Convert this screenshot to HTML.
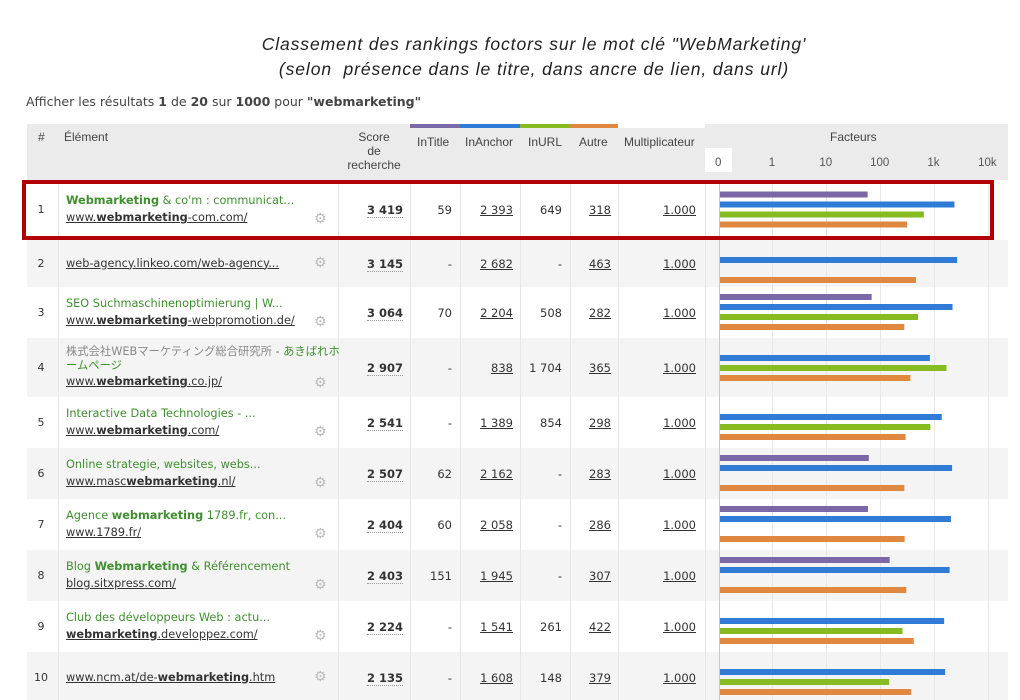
<!DOCTYPE html>
<html><head><meta charset="utf-8"><style>
body{margin:0;width:1020px;height:700px;background:#fff;position:relative;overflow:hidden;font-family:"DejaVu Sans","Liberation Sans","Noto Sans CJK JP",sans-serif;color:#333}
.a{position:absolute;white-space:nowrap}
.t{font-family:"Liberation Sans",sans-serif;font-style:italic;font-size:17.5px;letter-spacing:0.9px;color:#222;text-align:center;width:1020px;left:24px}
.h{font-family:"Liberation Sans",sans-serif;font-size:12px;color:#444}
.el{font-size:11.3px;left:66px}
.g{color:#3f8f2f}.u{color:#333;text-decoration:underline}
.n{font-size:11.5px;text-align:right}
.ul{text-decoration:underline}
.sc{font-weight:bold;border-bottom:1px dotted #999}
.gear{font-size:14px;color:#bbb;left:314px}
</style></head><body>
<div class="a t" style="top:34px;left:24px">Classement des rankings foctors sur le mot clé "WebMarketing'</div>
<div class="a t" style="top:59px;left:24px">(selon&nbsp; présence dans le titre, dans ancre de lien, dans url)</div>
<div class="a" style="left:26px;top:94px;font-size:12.5px;color:#444;font-family:'DejaVu Sans',sans-serif">Afficher les résultats <b>1</b> de <b>20</b> sur <b>1000</b> pour <b>"webmarketing"</b></div>
<svg id="tbl" class="a" style="left:0;top:0" width="1020" height="700"></svg>
<div id="txt"></div>
<script>
const ranks=[1,2,3,4,5,6,7,8,9,10];
const scores=[3419,3145,3064,2907,2541,2507,2404,2403,2224,2135];
const inTitle=[59,null,70,null,null,62,60,151,null,null];
const inAnchor=[2393,2682,2204,838,1389,2162,2058,1945,1541,1608];
const inURL=[649,null,508,1704,854,null,null,null,261,148];
const autre=[318,463,282,365,298,283,286,307,422,379];
const multiplier=["1.000","1.000","1.000","1.000","1.000","1.000","1.000","1.000","1.000","1.000"];
const tickLabels=["0","1","10","100","1k","10k"];
const tickValues=[0,1,10,100,1000,10000];
const titles=['<b>Webmarketing</b> &amp; co\'m : communicat...','','SEO Suchmaschinenoptimierung | W...','<span style="color:#888">株式会社WEBマーケティング総合研究所</span> - あきばれホ<br>ームページ','Interactive Data Technologies - ...','Online strategie, websites, webs...','Agence <b>webmarketing</b> 1789.fr, con...','Blog <b>Webmarketing</b> &amp; Référencement','Club des développeurs Web : actu...',''];
const urls=['www.<b>webmarketing</b>-com.com/','web-agency.linkeo.com/web-agency...','www.<b>webmarketing</b>-webpromotion.de/','www.<b>webmarketing</b>.co.jp/','www.<b>webmarketing</b>.com/','www.masc<b>webmarketing</b>.nl/','www.1789.fr/','blog.sitxpress.com/','<b>webmarketing</b>.developpez.com/','www.ncm.at/de-<b>webmarketing</b>.htm'];
const rowTops=[180,240,287,338,397,448,499,550,601,652,703];
const colors=["#7b68a6","#2f7bd6","#86bb22","#e08840"];
const x0=720,xOne=772,dec=54;
function xs(v){return v<=0?x0:xOne+dec*Math.log10(v);}
function fmt(v){return v==null?'-':(v>=1000?Math.floor(v/1000)+' '+String(v%1000).padStart(3,'0'):String(v));}
const svg=document.getElementById('tbl'),NS='http://www.w3.org/2000/svg';
function r(x,y,w,h,f,name){const e=document.createElementNS(NS,'rect');e.setAttribute('x',x);e.setAttribute('y',y);e.setAttribute('width',w);e.setAttribute('height',h);e.setAttribute('fill',f);


svg.appendChild(e);return e;}
r(27,124,981,56,'#ebebeb','header-background');
r(618,124,87,4,'#fff','header-gap');
const hc=[[410,50],[460,60],[520,50],[570,48]];
hc.forEach((c,i)=>r(c[0],124,c[1],4,colors[i],'series-color-strip'));
r(705,148,27,24,'#fff','zero-tick-box');
for(let i=0;i<10;i++){r(27,rowTops[i],981,rowTops[i+1]-rowTops[i],i%2?'#f4f4f4':'#fff','row-background');}
[58,338,410,460,520,570,618,705].forEach(x=>r(x,180,1,520,'#e6e6e6','column-divider'));
tickValues.forEach((v,i)=>{if(i>0)r(xs(v),180,1,520,'#e8e8e8','gridline');});
r(719,180,1,520,'#c8c8d0','zero-axis');
const series=[inTitle,inAnchor,inURL,autre];
for(let i=0;i<10;i++){const base=rowTops[i]+(i==0?14.5:10);
series.forEach((s,k)=>{if(s[i]!=null){r(x0,base+10*k-3,xs(s[i])-x0,6,colors[k],'factor-bar');}});}
const box=r(24,182,968,56,'none','highlight-box');box.setAttribute('stroke','#b00000');box.setAttribute('stroke-width','4');
let h='';
const hd=(x,y,t,n,ex)=>h+=`<div class="a h" style="left:${x}px;top:${y}px;${ex||''}">${t}</div>`;
hd(38,130,'#','col-rank');hd(64,130,'Élément','col-element');
hd(344,130,'Score<br>de<br>recherche','col-score','text-align:center;width:60px;line-height:14px');
hd(417,135,'InTitle','col-intitle');hd(465,135,'InAnchor','col-inanchor');hd(528,135,'InURL','col-inurl');hd(579,135,'Autre','col-autre');hd(624,135,'Multiplicateur','col-multiplicateur');
hd(830,130,'Facteurs','chart-title-facteurs');
tickLabels.forEach((l,i)=>hd(xs(tickValues[i])-(i==0?5:l.length*3.3),157,l,'tick-label','font-size:11.5px;color:#555'));
for(let i=0;i<10;i++){const top=rowTops[i],bot=rowTops[i+1],cy=(top+bot)/2-7;
h+=`<div class="a n" style="left:30px;width:22px;top:${cy}px;text-align:center;font-size:11px">${ranks[i]}</div>`;
const one=!titles[i];const multi=i==3;
if(!one){h+=`<div class="a el g" style="top:${multi?top+7:cy-9}px;line-height:14px">${titles[i]}</div>`;}
const uy=one?cy:(multi?top+37:cy+8);
h+=`<div class="a el u" style="top:${uy}px">${urls[i]}</div>`;
h+=`<div class="a gear" style="top:${one?cy-2:uy}px">⚙</div>`;
h+=`<div class="a n" style="right:${1020-403}px;top:${cy}px"><span class="sc">${fmt(scores[i])}</span></div>`;
h+=`<div class="a n" style="right:${1020-452}px;top:${cy}px">${fmt(inTitle[i])}</div>`;
h+=`<div class="a n ul" style="right:${1020-513}px;top:${cy}px">${fmt(inAnchor[i])}</div>`;
h+=`<div class="a n" style="right:${1020-562}px;top:${cy}px">${fmt(inURL[i])}</div>`;
h+=`<div class="a n ul" style="right:${1020-611}px;top:${cy}px">${fmt(autre[i])}</div>`;
h+=`<div class="a n ul" style="right:${1020-696}px;top:${cy}px">${multiplier[i]}</div>`;}
document.getElementById('txt').innerHTML=h;
</script>
</body></html>
